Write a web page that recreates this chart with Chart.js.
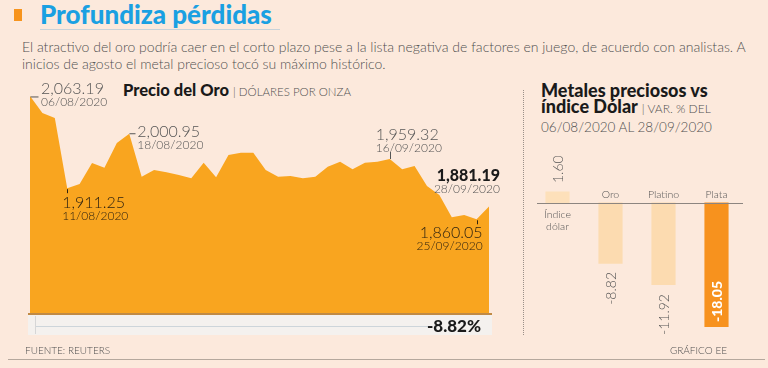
<!DOCTYPE html>
<html lang="es">
<head>
<meta charset="utf-8">
<title>Profundiza pérdidas</title>
<script src="https://cdn.jsdelivr.net/npm/chart.js@4.4.1/dist/chart.umd.min.js"></script>
<style>
  html, body { margin: 0; padding: 0; }
  body {
    width: 768px; height: 368px; position: relative; overflow: hidden;
    background: #fce9dc; font-family: Lato, "Open Sans", sans-serif; color: #4d4d4d;
  }
  .abs { position: absolute; white-space: nowrap; }
  #mark { left: 14px; top: 9px; width: 8px; height: 12px; background: #f7941d; }
  #title { left: 40px; top: 1px; font-size: 26px; line-height: 26px; font-weight: 900; color: #1aa0e2; }
  #rule { left: 40px; top: 29px; width: 240px; height: 1px; background: #c8d2d8; }
  #intro { left: 22px; top: 38px; width: 745px; white-space: normal; font-size: 14px; line-height: 17px; font-weight: 300; color: #505050; }
  #goldHead { left: 123px; top: 82px; font-size: 16.5px; line-height: 17px; font-weight: 900; color: #1a1a1a; }
  #goldHead span { font-weight: 300; font-size: 11.5px; color: #505050; }
  #goldWrap { left: 30px; top: 90px; width: 459px; height: 224px; }
  #metalWrap { left: 531px; top: 150px; width: 212px; height: 190px; }
  canvas { display: block; }
  #baseLine { left: 28px; top: 313px; width: 464px; height: 2px; background: #c08a45; }
  #footBar { left: 28px; top: 315px; width: 464px; height: 20px; background: #f4f1ee; }
  #footLine { left: 35px; top: 326px; width: 395px; height: 1px; background: #cdd5da; }
  #footTick { left: 35px; top: 316px; width: 1px; height: 18px; background: #d6d6d6; }
  #totalChange { left: 380px; width: 101px; top: 317px; text-align: right; font-size: 17px; line-height: 18px; font-weight: 900; color: #1a1a1a; }
  #divider { left: 523px; top: 90px; height: 245px; border-left: 1px dotted #9a8f88; }
  #metalHead { left: 541px; top: 82px; font-size: 18px; line-height: 16px; font-weight: 900; color: #1a1a1a; }
  #metalHead .light { font-weight: 300; font-size: 12px; color: #505050; }
  #metalHead .sub { font-weight: 300; font-size: 13.5px; color: #505050; }
  #source { left: 25px; top: 344px; font-size: 10px; font-weight: 300; color: #505050; }
  #credit { left: 660px; width: 67px; top: 344px; text-align: right; font-size: 10px; font-weight: 300; color: #505050; }
  #bottomRule { left: 8px; top: 359px; width: 757px; height: 1px; background: #b5a89d; }
  .pt { position: absolute; white-space: nowrap; }
  .pt .v { font-size: 16px; line-height: 16px; font-weight: 300; }
  .pt .d { font-size: 12px; line-height: 11px; font-weight: 300; }
  .pt.out { color: #555; }
  .pt.in { color: #2e2210; }
  .pt.strong .v { font-weight: 900; color: #1a1a1a; }
  .pt.right { transform: translateX(-100%); text-align: right; }
  .cat { position: absolute; white-space: normal; font-size: 10.5px; line-height: 12px; font-weight: 300; color: #555; text-align: center; transform: translateX(-50%); }
  .val { position: absolute; writing-mode: vertical-rl; font-size: 14px; line-height: 14px; font-weight: 300; color: #555; white-space: nowrap; }
  .val.inside { color: #fff; font-weight: 900; }
</style>
</head>
<body>
<div id="mark" class="abs"></div>
<div id="title" class="abs">Profundiza pérdidas</div>
<div id="rule" class="abs"></div>
<div id="intro" class="abs">El atractivo del oro podría caer en el corto plazo pese a la lista negativa de factores en juego, de acuerdo con analistas. A inicios de agosto el metal precioso tocó su máximo histórico.</div>

<div id="goldHead" class="abs">Precio del Oro <span>| DÓLARES POR ONZA</span></div>
<div id="goldWrap" class="abs"><canvas id="goldChart" width="459" height="224"></canvas></div>
<div id="baseLine" class="abs"></div>
<div id="footBar" class="abs"></div>
<div id="footLine" class="abs"></div>
<div id="footTick" class="abs"></div>
<div id="totalChange" class="abs"></div>

<div id="divider" class="abs"></div>
<div id="metalHead" class="abs">Metales preciosos vs<br>índice Dólar <span class="light">| VAR. % DEL</span><br><span class="sub">06/08/2020 AL 28/09/2020</span></div>
<div id="metalWrap" class="abs"><canvas id="metalChart" width="212" height="190"></canvas></div>

<div id="source" class="abs">FUENTE: REUTERS</div>
<div id="credit" class="abs">GRÁFICO EE</div>
<div id="bottomRule" class="abs"></div>

<script>
// ======================================================
// DATA
// ======================================================

const goldDates = [
  "06/08/2020", "07/08/2020", "10/08/2020", "11/08/2020", "12/08/2020", "13/08/2020",
  "14/08/2020", "17/08/2020", "18/08/2020", "19/08/2020", "20/08/2020", "21/08/2020",
  "24/08/2020", "25/08/2020", "26/08/2020", "27/08/2020", "28/08/2020", "31/08/2020",
  "01/09/2020", "02/09/2020", "03/09/2020", "04/09/2020", "07/09/2020", "08/09/2020",
  "09/09/2020", "10/09/2020", "11/09/2020", "14/09/2020", "15/09/2020", "16/09/2020",
  "17/09/2020", "18/09/2020", "21/09/2020", "22/09/2020", "23/09/2020", "24/09/2020",
  "25/09/2020", "28/09/2020",
];

const goldPrices = [
  2063.19, 2035.2, 2027.0, 1911.25, 1918.2, 1952.8,
  1945.1, 1985.8, 2000.95, 1930.2, 1941.3, 1937.5,
  1933.0, 1927.6, 1953.3, 1929.2, 1966.0, 1969.8,
  1969.8, 1941.3, 1930.2, 1931.4, 1927.6, 1930.2,
  1946.7, 1954.9, 1942.4, 1953.3, 1954.9, 1959.32,
  1942.4, 1947.9, 1914.9, 1900.1, 1863.3, 1867.1,
  1860.05, 1881.19,
];

// points that carry a value + date label
const annotatedPoints = [0, 3, 8, 29, 36, 37];

const metalNames = ["Índice dólar", "Oro", "Platino", "Plata"];
const metalChange = [1.6, -8.82, -11.92, -18.05];

// ======================================================
// LABEL PLACEMENT (offsets from each point, in px)
// ======================================================

const pointLabelStyle = {
  0:  { dx: 11, dy: -16, tone: "out", leader: [0, 1, 8, 1] },
  3:  { dx: -5, dy: 6, tone: "in", leader: [0, 1, 0, 5] },
  8:  { dx: 8, dy: -11, tone: "out", leader: [0, 0, 6, 0] },
  29: { dx: -14, dy: -33, tone: "out", leader: [0, -7, 0, 0] },
  36: { dx: 6, dy: 5, tone: "in", right: true, leader: [0, 1, 0, 5] },
  37: { dx: 11, dy: -39, tone: "out", right: true, strong: true, leader: [0, -10, 0, -1] },
};

const fmtPrice = (v) =>
  v.toLocaleString("en-US", { minimumFractionDigits: 2, maximumFractionDigits: 2 });

// ======================================================
// GOLD AREA CHART
// ======================================================

const goldWrap = document.getElementById("goldWrap");
const pointLabels = {};

annotatedPoints.forEach((idx) => {
  const style = pointLabelStyle[idx];
  const el = document.createElement("div");
  el.className = "pt " + style.tone + (style.right ? " right" : "") + (style.strong ? " strong" : "");
  el.innerHTML = `<div class="v">${fmtPrice(goldPrices[idx])}</div><div class="d">${goldDates[idx]}</div>`;
  goldWrap.appendChild(el);
  pointLabels[idx] = el;
});

const goldLabelPlugin = {
  id: "goldLabels",
  afterDraw(chart) {
    const { ctx } = chart;
    const xs = chart.scales.x;
    const ys = chart.scales.y;

    annotatedPoints.forEach((idx) => {
      const style = pointLabelStyle[idx];
      const px = xs.getPixelForValue(idx);
      const py = ys.getPixelForValue(goldPrices[idx]);
      const [x1, y1, x2, y2] = style.leader;

      ctx.save();
      ctx.strokeStyle = style.tone === "in" ? "#2e2210" : "#555";
      ctx.lineWidth = 1;
      ctx.beginPath();
      ctx.moveTo(Math.round(px + x1) + 0.5, py + y1);
      ctx.lineTo(Math.round(px + x2) + 0.5, py + y2);
      ctx.stroke();
      ctx.restore();

      const el = pointLabels[idx];
      el.style.left = px + style.dx + "px";
      el.style.top = py + style.dy + "px";
    });
  },
};

new Chart(document.getElementById("goldChart"), {
  type: "line",
  data: {
    labels: goldDates,
    datasets: [
      {
        data: goldPrices,
        fill: "start",
        backgroundColor: "#f9a51f",
        borderWidth: 0,
        pointRadius: 0,
        tension: 0,
      },
    ],
  },
  options: {
    responsive: false,
    animation: false,
    layout: { padding: 0 },
    plugins: { legend: { display: false }, tooltip: { enabled: false } },
    scales: {
      x: { display: false, offset: false },
      y: { display: false, min: 1704, max: 2073 },
    },
  },
  plugins: [goldLabelPlugin],
});

const totalChange = (goldPrices[goldPrices.length - 1] / goldPrices[0] - 1) * 100;
document.getElementById("totalChange").textContent = totalChange.toFixed(2) + "%";

// ======================================================
// METALS BAR CHART
// ======================================================

const metalWrap = document.getElementById("metalWrap");
const catLabels = [];
const valLabels = [];

metalNames.forEach((name, i) => {
  const cat = document.createElement("div");
  cat.className = "cat";
  cat.textContent = name;
  if (metalChange[i] > 0) cat.style.width = "34px";
  metalWrap.appendChild(cat);
  catLabels.push(cat);

  const val = document.createElement("div");
  val.className = "val" + (i === metalNames.length - 1 ? " inside" : "");
  val.textContent = metalChange[i].toFixed(2);
  metalWrap.appendChild(val);
  valLabels.push(val);
});

const metalLabelPlugin = {
  id: "metalLabels",
  afterDraw(chart) {
    const { ctx, chartArea } = chart;
    const zeroY = chart.scales.y.getPixelForValue(0);

    ctx.save();
    ctx.strokeStyle = "#8c8580";
    ctx.lineWidth = 1;
    ctx.beginPath();
    ctx.moveTo(chartArea.left + 6, Math.round(zeroY) + 0.5);
    ctx.lineTo(chartArea.right, Math.round(zeroY) + 0.5);
    ctx.stroke();
    ctx.restore();

    const bars = chart.getDatasetMeta(0).data;
    bars.forEach((bar, i) => {
      const cat = catLabels[i];
      const val = valLabels[i];
      cat.style.left = bar.x + "px";
      val.style.left = bar.x + "px";

      if (metalChange[i] > 0) {
        cat.style.top = zeroY + 5 + "px";
        val.style.top = bar.y - 9 + "px";
        val.style.transform = "translate(-50%, -100%) rotate(180deg)";
      } else if (i === bars.length - 1) {
        cat.style.top = zeroY - 15 + "px";
        val.style.top = bar.y - 5 + "px";
        val.style.transform = "translate(-50%, -100%) rotate(180deg)";
      } else {
        cat.style.top = zeroY - 15 + "px";
        val.style.top = bar.y + 9 + "px";
        val.style.transform = "translate(-50%, 0) rotate(180deg)";
      }
    });
  },
};

new Chart(document.getElementById("metalChart"), {
  type: "bar",
  data: {
    labels: metalNames,
    datasets: [
      {
        data: metalChange,
        backgroundColor: ["#fde0ba", "#fcdbb0", "#fcdbb0", "#f7921e"],
        borderWidth: 0,
        barThickness: 23.5,
      },
    ],
  },
  options: {
    responsive: false,
    animation: false,
    layout: { padding: 0 },
    plugins: { legend: { display: false }, tooltip: { enabled: false } },
    scales: {
      x: { display: false },
      y: { display: false, min: -20, max: 7.7 },
    },
  },
  plugins: [metalLabelPlugin],
});
</script>
</body>
</html>
